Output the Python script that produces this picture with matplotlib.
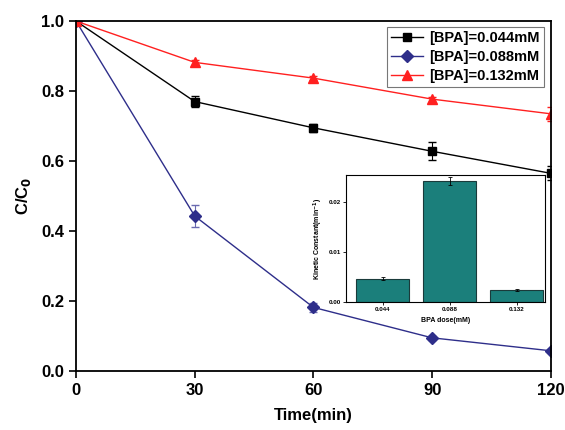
import matplotlib
matplotlib.use('Agg')
import matplotlib.pyplot as plt
from matplotlib.lines import Line2D

plt.rcParams['font.family'] = ['Liberation Sans', 'DejaVu Sans']
plt.rcParams['font.weight'] = 'bold'

time = [0, 30, 60, 90, 120]
c_044 = [1.0, 0.770, 0.695, 0.628, 0.565]
e_044 = [0, 0.016, 0.012, 0.026, 0.020]
c_088 = [1.0, 0.443, 0.182, 0.095, 0.058]
e_088 = [0, 0.032, 0.012, 0.006, 0.004]
c_132 = [1.0, 0.882, 0.837, 0.777, 0.735]
e_132 = [0, 0.008, 0.005, 0.007, 0.020]

doses = ['0.044', '0.088', '0.132']
k_vals = [0.0046, 0.0242, 0.0024]
k_err = [0.0003, 0.0008, 0.0002]

fig = plt.figure(figsize=(5.65, 4.3), dpi=100)
ax = fig.add_axes([0.1345, 0.137, 0.8405, 0.814])

series = [
    (c_044, e_044, 'black', 'black', 's', 6, '[BPA]=0.044mM'),
    (c_088, e_088, '#2e2e8a', '#6a6ab0', 'D', 6, '[BPA]=0.088mM'),
    (c_132, e_132, '#ff2020', '#ff2020', '^', 7, '[BPA]=0.132mM'),
]
handles = []
for y, e, col, ecol, mk, ms, lab in series:
    ax.errorbar(time, y, yerr=e, color=col, marker=mk, ms=ms, lw=1,
                capsize=3, elinewidth=0.8, ecolor=ecol)
    handles.append(Line2D([], [], color=col, marker=mk, ms=ms, lw=1, label=lab))

ax.set_xlim(0, 120)
ax.set_ylim(0, 1.0)
ax.set_xticks([0, 30, 60, 90, 120])
ax.set_yticks([0.0, 0.2, 0.4, 0.6, 0.8, 1.0])
ax.set_yticklabels(['0.0', '0.2', '0.4', '0.6', '0.8', '1.0'])
ax.tick_params(direction='out', length=5, width=1.2, labelsize=12, top=False, right=False)
for s in ax.spines.values():
    s.set_linewidth(1.3)
ax.set_xlabel('Time(min)', fontsize=12, fontweight='bold', labelpad=7)
ax.set_ylabel('C/C$_\\mathbf{0}$', fontsize=12, fontweight='bold', labelpad=6)

leg = ax.legend(handles=handles, loc='upper right', fontsize=10.5, frameon=True,
                fancybox=False, edgecolor='#555555', handlelength=2.2, borderpad=0.3,
                labelspacing=0.33, handletextpad=0.4, borderaxespad=0,
                bbox_to_anchor=(0.985, 0.983))
leg.get_frame().set_linewidth(0.8)

ins = fig.add_axes([0.612, 0.298, 0.352, 0.295])
ins.bar(range(3), k_vals, width=0.8, color='#1b7f7b', edgecolor='#1a3a3a', lw=0.8,
        yerr=k_err, capsize=1.5, error_kw={'elinewidth': 0.6, 'capthick': 0.6})
ins.set_xlim(-0.55, 2.42)
ins.set_ylim(0, 0.0254)
ins.set_xticks(range(3))
ins.set_xticklabels(doses)
ins.set_yticks([0.0, 0.01, 0.02])
ins.set_yticklabels(['0.00', '0.01', '0.02'])
ins.tick_params(labelsize=4.5, length=2, width=0.6, direction='out', pad=1.5)
for s in ins.spines.values():
    s.set_linewidth(0.8)
ins.set_xlabel('BPA dose(mM)', fontsize=5, fontweight='bold', labelpad=4)
ins.set_ylabel('Kinetic Constant(min$^{\\mathbf{-1}}$)', fontsize=5, fontweight='bold', labelpad=3)

fig.savefig('out.png', dpi=100)
